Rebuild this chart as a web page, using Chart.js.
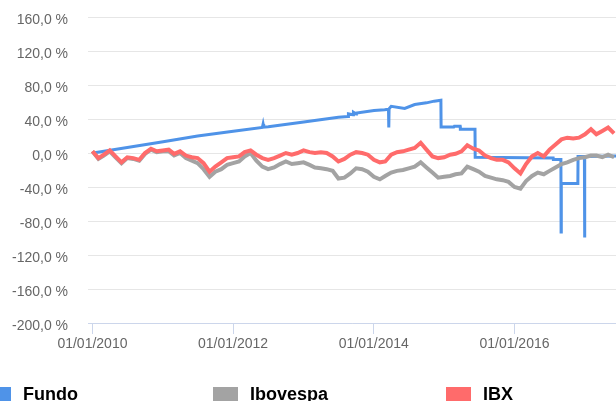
<!DOCTYPE html>
<html>
<head>
<meta charset="utf-8">
<script src="https://cdn.jsdelivr.net/npm/chart.js@4.4.1/dist/chart.umd.min.js"></script>
<style>
html, body { margin: 0; padding: 0; background: #fff; overflow: hidden; }
#wrap { position: relative; width: 616px; height: 401px; }
#legend div { position: absolute; top: 385px; font: bold 18px "Liberation Sans", Arial, sans-serif; line-height: 18px; color: #000; white-space: nowrap; }
#legend span { position: absolute; left: -37px; top: 2px; width: 25px; height: 16px; }
</style>
</head>
<body>
<div id="wrap">
  <canvas id="chart" width="616" height="401"></canvas>
  <div id="legend">
    <div style="left:23px"><span style="background:#4f93e8"></span>Fundo</div>
    <div style="left:250px"><span style="background:#a3a3a3"></span>Ibovespa</div>
    <div style="left:483px"><span style="background:#ff6b6b"></span>IBX</div>
  </div>
</div>
<script>
// rentabilidade acumulada (%)
const fundoDates = [
  '2010-01-04','2010-07-01','2011-01-03','2011-07-01','2012-01-02','2012-06-01','2012-06-05','2012-06-08',
  '2012-07-02','2013-01-02','2013-07-01','2013-08-20','2013-08-22','2013-09-15','2013-09-17','2013-10-01',
  '2013-10-03','2014-01-02','2014-02-26','2014-03-18','2014-03-19','2014-03-20','2014-03-21','2014-04-01',
  '2014-06-10','2014-08-01','2014-10-01','2014-11-10','2014-12-15','2014-12-16','2015-02-20','2015-02-23',
  '2015-03-25','2015-03-26','2015-06-10','2015-06-11','2016-07-20','2016-07-21','2016-08-29','2016-08-30',
  '2016-08-31','2016-11-25','2016-11-26','2016-12-29','2016-12-30','2016-12-31','2017-06-11'
];
const fundoValues = [
  0, 6.5, 13.3, 20, 25.5, 30, 34, 30.5,
  31, 36.5, 42, 43, 46, 45, 48, 46,
  47, 50, 51, 51.5, 30, 30, 52, 55,
  52.5, 57, 59, 61, 62, 30.5, 30.5, 31.5,
  31.5, 28, 28, -5, -6, -7.5, -7.5, -93,
  -36, -36, -4, -4, -99.5, -4, -3.5
];

const ibovespa = [
  2, -7, -3, 2, -5, -12, -6, -7, -9, -1, 4, 1,
  2, 2, -3, 0, -6, -9, -12, -19, -28, -22, -19, -14,
  -12, -10, -4, 0, -9, -16, -19, -17, -13, -10, -13, -12,
  -11, -14, -17, -18, -19, -21, -30, -29, -24, -18, -19, -22,
  -28, -31, -27, -23, -21, -20, -18, -16, -11, -17, -23, -29,
  -28, -27, -25, -24, -16, -19, -22, -27, -29, -31, -32, -34,
  -40, -42, -33, -27, -23, -25, -21, -17, -13, -11, -8, -6,
  -5, -3, -3, -5, -2, -5
];
const ibx = [
  2, -6, -2, 3, -4, -11, -5, -6, -8, 0, 5, 2,
  3, 4, -1, 2, -3, -5, -6, -12, -22, -16, -11, -6,
  -5, -4, 1, 3, -2, -6, -8, -6, -3, 0, -2, 0,
  3, 1, 0, 1, 0, -4, -10, -7, -2, 1, 0, -2,
  -8, -11, -10, -2, 1, 2, 4, 6, 12, 4, -4, -6,
  -5, -2, -1, 2, 9, 5, 3, -3, -6, -8, -8, -11,
  -18, -24, -13, -4, 0, -4, 4, 10, 16, 18, 17, 18,
  22, 28, 22, 26, 30, 23
];

const xTickDates = ['2010-01-01', '2012-01-01', '2014-01-01', '2016-01-01'];
const yTicks = [-200, -160, -120, -80, -40, 0, 40, 80, 120, 160];

// datas mensais dos índices, jan/2010 a jun/2017
const months = [];
for (let y = 2010; y <= 2017; y++) {
  for (let m = 0; m < 12 && months.length < ibx.length; m++) {
    months.push(Date.UTC(y, m, 1));
  }
}

function pad(n) { return (n < 10 ? '0' : '') + n; }
function fmtDate(v) {
  const d = new Date(v);
  return pad(d.getUTCDate()) + '/' + pad(d.getUTCMonth() + 1) + '/' + d.getUTCFullYear();
}

const font = { family: '"Liberation Sans", Arial, sans-serif', size: 14 };

const ctx = document.getElementById('chart').getContext('2d');
new Chart(ctx, {
  type: 'line',
  data: {
    datasets: [
      {
        label: 'Fundo',
        data: fundoDates.map((d, i) => ({ x: Date.parse(d), y: fundoValues[i] })),
        borderColor: '#4f93e8',
        borderWidth: 3,
        pointRadius: 0,
        tension: 0,
        order: 3
      },
      {
        label: 'Ibovespa',
        data: months.map((t, i) => ({ x: t, y: ibovespa[i] })),
        borderColor: '#a3a3a3',
        borderWidth: 4,
        pointRadius: 0,
        tension: 0,
        order: 2
      },
      {
        label: 'IBX',
        data: months.map((t, i) => ({ x: t, y: ibx[i] })),
        borderColor: '#ff6b6b',
        borderWidth: 4,
        pointRadius: 0,
        tension: 0,
        order: 1
      }
    ]
  },
  options: {
    responsive: false,
    animation: false,
    layout: { padding: { top: 17, left: 0, right: 0, bottom: 0 } },
    plugins: {
      legend: { display: false },
      tooltip: { enabled: false }
    },
    scales: {
      x: {
        type: 'linear',
        min: Date.parse('2009-12-09'),
        max: Date.parse('2017-06-11'),
        afterBuildTicks: function(scale) {
          scale.ticks = xTickDates.map(d => ({ value: Date.parse(d) }));
        },
        afterFit: function(scale) { scale.height = 78; },
        ticks: {
          callback: v => fmtDate(v),
          color: '#666',
          font: font,
          maxRotation: 0,
          autoSkip: false,
          padding: 2
        },
        grid: { drawOnChartArea: false, tickLength: 11, tickColor: '#ccd6eb', color: '#ccd6eb' },
        border: { color: '#ccd6eb' }
      },
      y: {
        min: -200,
        max: 160,
        afterBuildTicks: function(scale) {
          scale.ticks = yTicks.map(v => ({ value: v }));
        },
        afterFit: function(scale) {
          scale.width = 88;
          // o padding dos rótulos não deve empurrar a área do gráfico
          scale.paddingTop = 0;
          scale.paddingBottom = 0;
        },
        ticks: {
          callback: v => v.toFixed(1).replace('.', ',') + ' %',
          color: '#666',
          font: font,
          padding: 20,
          labelOffset: 3
        },
        grid: { color: '#e6e6e6', drawTicks: false },
        border: { display: false }
      }
    }
  }
});
</script>
</body>
</html>
